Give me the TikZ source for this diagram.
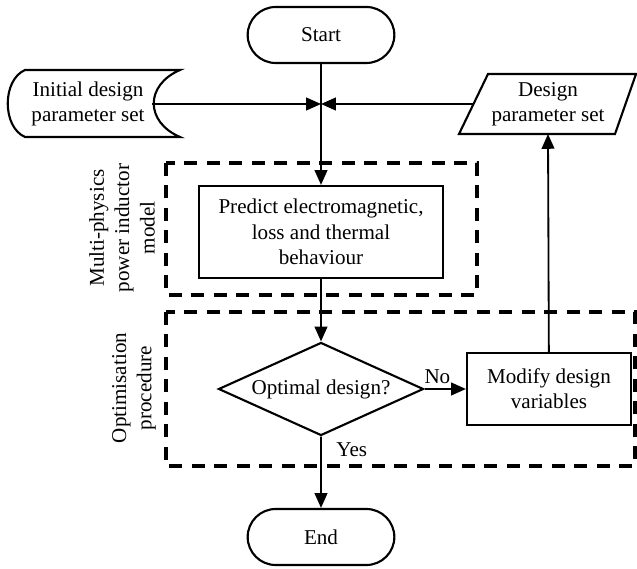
\documentclass[tikz,border=0pt]{standalone}
\usepackage{fontspec}
\setmainfont{Liberation Serif}
\usetikzlibrary{shapes.geometric,shapes.misc,arrows.meta}

\begin{document}
\begin{tikzpicture}[x=0.025cm, y=-0.025cm,
  every node/.style={font=\fontsize{15}{18}\selectfont, align=center},
  arr/.style={line width=1.3pt, -{Triangle[length=10.5pt,width=9pt]}},
  outline/.style={line width=1.5pt},
  term/.style={draw, outline, rounded rectangle, minimum width=3.9cm, minimum height=1.4cm},
  proc/.style={draw, outline, rectangle, inner sep=2pt},
  decision/.style={draw, outline, diamond, aspect=2.2, inner sep=1pt, minimum width=5.125cm, minimum height=2.325cm},
  dashbox/.style={line width=2.6pt, dash pattern=on 9pt off 7pt}]

\useasboundingbox (0,0) rectangle (637,569);

\node[term] (start) at (321,35) {Start};
\node[proc, minimum width=6.1cm, minimum height=2.3cm] (predict) at (321,232) {Predict electromagnetic,\\ loss and thermal\\ behaviour};
\node[decision] (optim) at (321,389) {Optimal design?};
\node[proc, minimum width=4.1cm, minimum height=1.8cm] (modify) at (549,389) {Modify design\\ variables};
\node (dps) at (548,104) {Design\\ parameter set};
\node (init) at (88,104) {Initial design\\ parameter set};
\node[term] (end) at (321,537) {End};
\coordinate (junc) at (321,104);
\coordinate (initr) at (152,104);
\coordinate (dpsl) at (473,104);
\coordinate (dpsb) at (548,134);

\draw[outline] (459,134) -- (488,74) -- (636,74) -- (615,134) -- cycle;
\draw[outline] (25,70) -- (180,70) .. controls (145,85) and (145,122) .. (180,137) -- (25,137) .. controls (2,127) and (2,80) .. (25,70) -- cycle;

\node[rotate=90] (mpl) at (122,228) {Multi-physics\\ power inductor\\ model};
\node[rotate=90] (opl) at (134,388) {Optimisation\\ procedure};

\draw[dashbox] (166,163) rectangle (477,295);
\draw[dashbox] (166,312) rectangle (635,466);

\draw[line width=1.3pt] (start) -- (junc);
\draw[arr] (junc) -- (predict);
\draw[arr] (initr) -- (junc);
\draw[arr] (dpsl) -- (junc);
\draw[arr] (predict) -- (optim);
\draw[arr] (optim) -- node[above, pos=0.31] {No} (modify);
\draw[arr] (optim) -- node[right, xshift=7pt, pos=0.18] {Yes} (end);
\draw[arr] (modify) -- (dpsb);
\end{tikzpicture}
\end{document}
